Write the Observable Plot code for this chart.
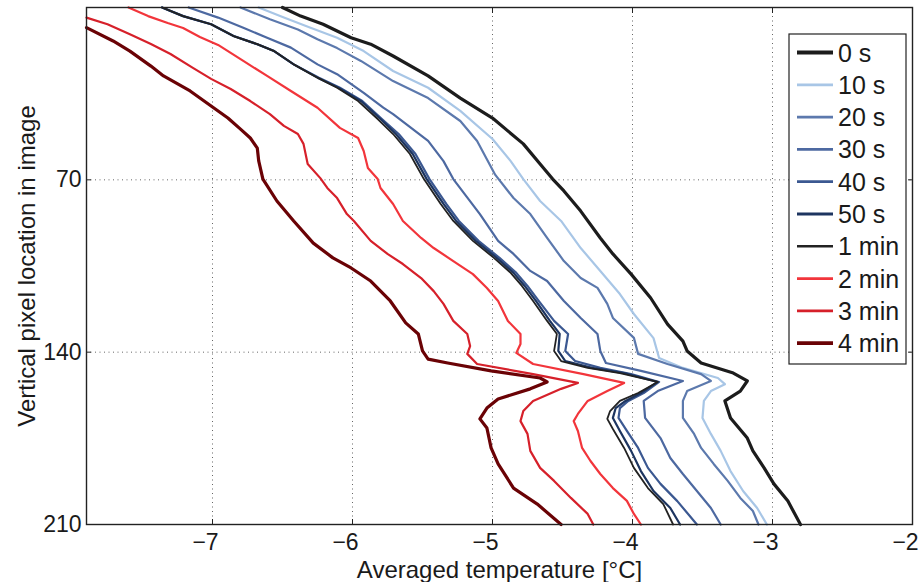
<!DOCTYPE html>
<html>
<head>
<meta charset="utf-8">
<script src="https://cdn.jsdelivr.net/npm/d3@7"></script>
<script src="https://cdn.jsdelivr.net/npm/@observablehq/plot@0.6"></script>
<style>
  html, body { margin: 0; padding: 0; background: #fff; }
  #chart { width: 920px; height: 582px; }
  svg { font-family: "Liberation Sans", Arial, Helvetica, sans-serif; }
</style>
</head>
<body>
<div id="chart"></div>
<script>
// [temperature °C, vertical pixel row]
const s0s = [[-6.50,0],[-6.37,3.5],[-6.21,6.8],[-6.01,12.3],[-5.87,14.9],[-5.71,19.7],[-5.46,27.8],[-5.23,36.8],[-5.00,44.9],[-4.78,55.4],[-4.66,63.6],[-4.57,69.7],[-4.49,74.5],[-4.37,82.7],[-4.23,93.6],[-4.14,100.1],[-4.01,108.3],[-3.87,118.0],[-3.75,128.6],[-3.64,135.5],[-3.61,139.5],[-3.51,144.4],[-3.28,148.5],[-3.18,151.7],[-3.23,155.8],[-3.34,159.8],[-3.30,166.7],[-3.18,174.9],[-3.14,180.1],[-3.06,187.0],[-2.99,193.5],[-2.89,200.5],[-2.80,210]];
const s10s = [[-6.67,0],[-6.49,4.1],[-6.30,8.2],[-6.11,12.3],[-5.92,17.7],[-5.71,25.8],[-5.46,32.6],[-5.23,42.0],[-5.00,53.4],[-4.87,62.4],[-4.78,69.7],[-4.66,78.6],[-4.51,86.7],[-4.37,97.7],[-4.23,107.0],[-4.09,116.4],[-3.99,124.5],[-3.85,134.3],[-3.81,142.4],[-3.64,146.4],[-3.39,150.5],[-3.34,153.0],[-3.44,155.8],[-3.49,159.8],[-3.50,166.7],[-3.44,173.2],[-3.37,180.1],[-3.30,188.3],[-3.21,196.4],[-3.11,203.3],[-3.04,210]];
const s20s = [[-6.80,0],[-6.59,4.8],[-6.39,8.9],[-6.25,12.9],[-6.11,16.5],[-5.94,21.7],[-5.71,29.9],[-5.46,36.8],[-5.23,46.1],[-5.11,54.2],[-4.98,68.0],[-4.85,77.4],[-4.73,83.9],[-4.61,93.6],[-4.49,103.0],[-4.37,109.9],[-4.25,113.9],[-4.18,120.4],[-4.14,126.1],[-3.99,134.2],[-3.96,140.7],[-3.75,144.8],[-3.51,148.9],[-3.44,151.7],[-3.61,155.8],[-3.64,159.8],[-3.64,166.7],[-3.56,173.2],[-3.51,178.9],[-3.42,185.4],[-3.32,192.3],[-3.23,199.2],[-3.14,204.5],[-3.10,210]];
const s30s = [[-7.17,0],[-6.96,4.1],[-6.78,8.2],[-6.61,12.3],[-6.44,16.3],[-6.25,23.1],[-6.11,27.1],[-5.92,34.7],[-5.78,40.7],[-5.71,43.3],[-5.46,54.2],[-5.35,62.4],[-5.28,69.7],[-5.09,83.9],[-4.96,94.8],[-4.85,100.1],[-4.73,107.0],[-4.61,111.1],[-4.49,119.2],[-4.37,126.1],[-4.25,132.6],[-4.23,139.5],[-4.19,144.4],[-3.94,147.6],[-3.64,151.7],[-3.82,155.8],[-3.92,159.8],[-3.91,166.7],[-3.80,174.9],[-3.73,183.0],[-3.64,189.5],[-3.54,196.4],[-3.44,203.3],[-3.37,210]];
const s40s = [[-7.36,0],[-7.21,3.5],[-7.01,6.8],[-6.85,11.6],[-6.68,14.9],[-6.56,17.7],[-6.42,23.1],[-6.24,28.5],[-6.09,32.6],[-5.93,38.0],[-5.79,45.3],[-5.67,51.4],[-5.55,59.5],[-5.45,69.7],[-5.33,79.8],[-5.24,86.7],[-5.10,94.8],[-4.95,101.7],[-4.83,107.8],[-4.75,113.1],[-4.67,119.2],[-4.56,127.3],[-4.46,132.6],[-4.48,139.5],[-4.41,143.6],[-4.23,146.4],[-4.01,148.9],[-3.81,152.1],[-3.92,156.6],[-4.03,159.8],[-4.09,162.7],[-4.10,166.7],[-4.04,172.0],[-3.96,178.9],[-3.89,187.0],[-3.80,193.5],[-3.68,200.5],[-3.54,210]];
const s50s = [[-7.36,0],[-7.21,3.5],[-7.01,6.8],[-6.85,11.6],[-6.68,14.9],[-6.56,17.7],[-6.42,23.1],[-6.25,28.5],[-6.10,32.6],[-5.94,38.0],[-5.80,45.3],[-5.69,51.4],[-5.57,59.5],[-5.47,69.7],[-5.35,79.8],[-5.26,86.7],[-5.12,94.8],[-4.97,101.7],[-4.85,107.8],[-4.77,113.1],[-4.69,119.2],[-4.59,127.3],[-4.52,132.6],[-4.53,139.5],[-4.48,143.6],[-4.29,146.4],[-4.06,148.5],[-3.82,152.1],[-3.94,156.6],[-4.05,159.8],[-4.12,162.7],[-4.14,166.7],[-4.09,172.0],[-4.01,180.1],[-3.94,188.3],[-3.85,196.4],[-3.73,203.3],[-3.66,210]];
const s1min = [[-7.36,0],[-7.21,3.5],[-7.01,6.8],[-6.85,11.6],[-6.68,14.9],[-6.56,17.7],[-6.42,23.1],[-6.25,28.5],[-6.11,32.6],[-5.96,38.0],[-5.82,45.3],[-5.71,51.4],[-5.59,59.5],[-5.49,69.7],[-5.37,79.8],[-5.28,86.7],[-5.14,94.8],[-4.99,101.7],[-4.87,107.8],[-4.79,113.1],[-4.71,119.2],[-4.61,127.3],[-4.54,132.6],[-4.56,139.5],[-4.51,143.6],[-4.32,146.4],[-4.09,148.5],[-3.82,152.1],[-3.96,156.6],[-4.09,159.8],[-4.16,163.9],[-4.18,167.1],[-4.14,171.2],[-4.06,178.9],[-3.99,187.0],[-3.89,195.2],[-3.78,201.7],[-3.71,210]];
const s2min = [[-7.60,0],[-7.46,3.5],[-7.32,6.3],[-7.21,8.3],[-7.09,12.0],[-6.96,15.2],[-6.78,21.7],[-6.61,27.8],[-6.44,33.9],[-6.25,40.7],[-6.09,48.9],[-5.96,53.0],[-5.92,58.3],[-5.89,65.2],[-5.82,69.7],[-5.80,73.3],[-5.71,79.8],[-5.64,86.7],[-5.51,93.6],[-5.42,97.7],[-5.28,103.0],[-5.14,108.3],[-5.04,113.9],[-4.96,119.2],[-4.89,127.3],[-4.80,132.6],[-4.80,136.7],[-4.83,140.3],[-4.71,144.8],[-4.35,148.9],[-4.06,152.5],[-4.18,155.8],[-4.32,159.8],[-4.39,165.1],[-4.42,168.0],[-4.39,172.0],[-4.36,178.9],[-4.30,184.2],[-4.23,189.5],[-4.14,195.2],[-4.04,200.4],[-3.99,205.7],[-3.94,210]];
const s3min = [[-7.90,4.1],[-7.75,6.8],[-7.59,10.9],[-7.44,14.8],[-7.30,18.9],[-7.14,24.5],[-7.01,29.0],[-6.87,33.1],[-6.73,38.0],[-6.59,43.3],[-6.49,48.1],[-6.39,51.4],[-6.35,55.4],[-6.32,63.6],[-6.23,69.3],[-6.18,73.3],[-6.11,77.4],[-6.04,83.9],[-5.99,86.7],[-5.87,94.8],[-5.75,100.1],[-5.64,104.2],[-5.51,109.9],[-5.42,115.2],[-5.35,120.4],[-5.28,127.3],[-5.18,132.6],[-5.16,137.5],[-5.18,140.7],[-5.11,144.8],[-4.71,148.9],[-4.39,152.5],[-4.51,154.9],[-4.71,159.8],[-4.78,163.9],[-4.80,168.0],[-4.75,173.2],[-4.73,180.1],[-4.66,187.0],[-4.56,192.3],[-4.44,199.2],[-4.32,205.7],[-4.28,210]];
const s4min = [[-7.90,8.2],[-7.71,13.6],[-7.59,17.7],[-7.44,23.8],[-7.35,27.8],[-7.16,33.9],[-7.01,40.0],[-6.89,44.9],[-6.80,49.4],[-6.73,53.0],[-6.68,57.1],[-6.67,62.3],[-6.64,69.7],[-6.54,78.6],[-6.42,86.7],[-6.28,95.7],[-6.14,101.7],[-6.01,105.8],[-5.87,111.1],[-5.73,119.2],[-5.62,128.1],[-5.53,132.6],[-5.50,139.5],[-5.46,142.8],[-5.32,144.4],[-5.01,147.6],[-4.66,150.5],[-4.61,152.1],[-4.73,154.9],[-4.96,159.0],[-5.04,162.7],[-5.09,167.1],[-5.04,170.8],[-5.01,178.9],[-4.96,185.4],[-4.85,195.2],[-4.68,201.7],[-4.51,210]];

const seriesLabels = ["0 s","10 s","20 s","30 s","40 s","50 s","1 min","2 min","3 min","4 min"];
const seriesData = [s0s, s10s, s20s, s30s, s40s, s50s, s1min, s2min, s3min, s4min];
const seriesColors = ["#1c1c1c","#a8c6e6","#5c79ad","#4d69a1","#3b5891","#1d3560","#222222","#f2353b","#d6202a","#6a0205"];
const seriesWidths = [3.2, 2.2, 2.2, 2.2, 2.2, 2.2, 1.8, 2.2, 2.2, 3.2];

const xTicks = [-7, -6, -5, -4, -3, -2];
const yTicks = [70, 140, 210];
const xLabel = "Averaged temperature [°C]";
const yLabel = "Vertical pixel location in image";

const rows = seriesData.flatMap((pts, i) => pts.map(([t, r]) => ({t, r, s: seriesLabels[i]})));

const FS = 24;
const TFS = 23;
const LFS = 25;
const fmt = d => (d < 0 ? "\u2212" : "") + Math.abs(d);
const lineMarks = seriesLabels.map((lab, i) =>
  Plot.line(rows.filter(d => d.s === lab), {x: "t", y: "r", stroke: seriesColors[i], strokeWidth: seriesWidths[i], strokeLinejoin: "round"})
);

const chart = Plot.plot({
  width: 920,
  height: 582,
  marginLeft: 86,
  marginRight: 8,
  marginTop: 7,
  marginBottom: 58,
  style: {fontFamily: '"Liberation Sans", Arial, Helvetica, sans-serif', background: "#fff", color: "#1a1a1a"},
  x: {domain: [-7.9, -2], ticks: xTicks},
  y: {domain: [0, 210], reverse: true, ticks: yTicks},
  marks: [
    Plot.gridX(xTicks.slice(0, 5), {stroke: "#666", strokeOpacity: 1, strokeDasharray: "1,3.5", strokeWidth: 1}),
    Plot.gridY(yTicks.slice(0, 2), {stroke: "#666", strokeOpacity: 1, strokeDasharray: "1,3.5", strokeWidth: 1}),
    ...lineMarks,
    Plot.axisX(xTicks, {anchor: "bottom", tickSize: 0, tickPadding: 9, fontSize: TFS, label: null, dx: -7, tickFormat: fmt}),
    Plot.axisY(yTicks, {anchor: "left", tickSize: 0, tickPadding: 5, fontSize: TFS, label: null, tickFormat: fmt}),
    Plot.axisX(xTicks, {anchor: "bottom", tickSize: -5, tickFormat: () => "", label: null, stroke: "#222"}),
    Plot.axisX(xTicks, {anchor: "top", tickSize: -5, tickFormat: () => "", label: null, stroke: "#222"}),
    Plot.axisY(yTicks, {anchor: "left", tickSize: -5, tickFormat: () => "", label: null, stroke: "#222"}),
    Plot.axisY(yTicks, {anchor: "right", tickSize: -5, tickFormat: () => "", label: null, stroke: "#222"}),
    Plot.frame({stroke: "#222", strokeWidth: 1.4}),
    Plot.text([xLabel], {frameAnchor: "bottom", dy: 46, fontSize: FS, fill: "#1a1a1a", textAnchor: "middle", lineAnchor: "middle"}),
    Plot.text([yLabel], {frameAnchor: "left", dx: -59, rotate: -90, fontSize: FS, fill: "#1a1a1a", textAnchor: "middle", lineAnchor: "middle"})
  ]
});

document.getElementById("chart").appendChild(chart);

// Legend (inside the plot, top-right)
const svg = d3.select(chart);
const lg = svg.append("g").attr("class", "legend").attr("text-anchor", "start");
const box = {x: 789, y: 34, w: 117, h: 330};
lg.append("rect").attr("x", box.x).attr("y", box.y).attr("width", box.w).attr("height", box.h)
  .attr("fill", "#fff").attr("stroke", "#222").attr("stroke-width", 1.2);
seriesLabels.forEach((lab, i) => {
  const cy = box.y + 18.5 + i * 32.3;
  lg.append("line").attr("x1", box.x + 8).attr("x2", box.x + 44).attr("y1", cy).attr("y2", cy)
    .attr("stroke", seriesColors[i]).attr("stroke-width", seriesWidths[i] + 0.6);
  lg.append("text").attr("x", box.x + 49).attr("y", cy).attr("dy", "0.36em")
    .attr("text-anchor", "start").attr("font-size", LFS).attr("fill", "#1a1a1a").text(lab);
});
</script>
</body>
</html>
